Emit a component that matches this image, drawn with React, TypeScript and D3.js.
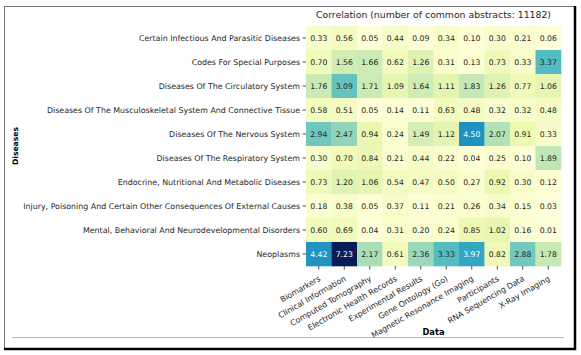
import React from "react";
import * as d3 from "d3";

const diseases = [
  "Certain Infectious And Parasitic Diseases",
  "Codes For Special Purposes",
  "Diseases Of The Circulatory System",
  "Diseases Of The Musculoskeletal System And Connective Tissue",
  "Diseases Of The Nervous System",
  "Diseases Of The Respiratory System",
  "Endocrine, Nutritional And Metabolic Diseases",
  "Injury, Poisoning And Certain Other Consequences Of External Causes",
  "Mental, Behavioral And Neurodevelopmental Disorders",
  "Neoplasms",
];

const dataTypes = [
  "Biomarkers",
  "Clinical Information",
  "Computed Tomography",
  "Electronic Health Records",
  "Experimental Results",
  "Gene Ontology (Go)",
  "Magnetic Resonance Imaging",
  "Participants",
  "RNA Sequencing Data",
  "X-Ray Imaging",
];

const infectious = [0.33, 0.56, 0.05, 0.44, 0.09, 0.34, 0.10, 0.30, 0.21, 0.06];
const specialCodes = [0.70, 1.56, 1.66, 0.62, 1.26, 0.31, 0.13, 0.73, 0.33, 3.37];
const circulatory = [1.76, 3.09, 1.71, 1.09, 1.64, 1.11, 1.83, 1.26, 0.77, 1.06];
const musculoskeletal = [0.58, 0.51, 0.05, 0.14, 0.11, 0.63, 0.48, 0.32, 0.32, 0.48];
const nervous = [2.94, 2.47, 0.94, 0.24, 1.49, 1.12, 4.50, 2.07, 0.91, 0.33];
const respiratory = [0.30, 0.70, 0.84, 0.21, 0.44, 0.22, 0.04, 0.25, 0.10, 1.89];
const endocrine = [0.73, 1.20, 1.06, 0.54, 0.47, 0.50, 0.27, 0.92, 0.30, 0.12];
const injury = [0.18, 0.38, 0.05, 0.37, 0.11, 0.21, 0.26, 0.34, 0.15, 0.03];
const mental = [0.60, 0.69, 0.04, 0.31, 0.20, 0.24, 0.85, 1.02, 0.16, 0.01];
const neoplasms = [4.42, 7.23, 2.17, 0.61, 2.36, 3.33, 3.97, 0.82, 2.88, 1.78];

const matrix = [
  infectious,
  specialCodes,
  circulatory,
  musculoskeletal,
  nervous,
  respiratory,
  endocrine,
  injury,
  mental,
  neoplasms,
];

const titleText = "Correlation (number of common abstracts: 11182)";

const YLGNBU = [
  "#ffffd9", "#edf8b1", "#c7e9b4", "#7fcdbb", "#41b6c4",
  "#1d91c0", "#225ea8", "#253494", "#081d58",
];

const FONT = "DejaVu Sans, sans-serif";

function luminance(c: string) {
  const rgb = d3.rgb(c);
  const f = (v: number) => {
    const s = v / 255;
    return s <= 0.03928 ? s / 12.92 : Math.pow((s + 0.055) / 1.055, 2.4);
  };
  return 0.2126 * f(rgb.r) + 0.7152 * f(rgb.g) + 0.0722 * f(rgb.b);
}

export default function App() {
  const W = 581;
  const H = 355;
  const left = 306;
  const right = 561;
  const top = 26;
  const bottom = 266;

  const x = d3.scaleBand<string>().domain(dataTypes).range([left, right]);
  const y = d3.scaleBand<string>().domain(diseases).range([top, bottom]);
  const vmax = d3.max(matrix.flat()) as number;
  const color = d3
    .scaleLinear<string>()
    .domain(YLGNBU.map((_, i) => (i / (YLGNBU.length - 1)) * vmax))
    .range(YLGNBU)
    .interpolate(d3.interpolateRgb)
    .clamp(true);

  const bw = x.bandwidth();
  const bh = y.bandwidth();

  return (
    <svg
      width={W}
      height={H}
      style={{ position: "absolute", left: 0, top: 0, background: "#fff" }}
      fontFamily={FONT}
    >
      <rect x={0} y={0} width={W} height={H} fill="#fff" />
      {/* frame */}
      <line x1={4} y1={6.5} x2={575} y2={6.5} stroke="#777" strokeWidth={1} />
      <line x1={4.5} y1={6} x2={4.5} y2={349} stroke="#777" strokeWidth={1} />
      <line x1={575} y1={6} x2={575} y2={350} stroke="#000" strokeWidth={2.5} />
      <line x1={4} y1={349} x2={576} y2={349} stroke="#000" strokeWidth={2.5} />
      <line x1={12} y1={337.5} x2={564} y2={337.5} stroke="#b5b5b5" strokeWidth={1} />

      {/* cells */}
      {matrix.map((row, ri) =>
        row.map((v, ci) => {
          const fill = color(v);
          const txt = luminance(fill) > 0.39 ? "#262626" : "#ffffff";
          const cx = (x(dataTypes[ci]) as number) + bw / 2;
          const cy = (y(diseases[ri]) as number) + bh / 2;
          return (
            <g key={`${ri}-${ci}`}>
              <rect
                x={x(dataTypes[ci])}
                y={y(diseases[ri])}
                width={bw + 0.3}
                height={bh + 0.3}
                fill={fill}
              />
              <text
                x={cx}
                y={cy}
                textAnchor="middle"
                dominantBaseline="central"
                fontSize={7.7}
                fill={txt}
              >
                {v.toFixed(2)}
              </text>
            </g>
          );
        })
      )}

      {/* y axis */}
      {diseases.map((d) => {
        const cy = (y(d) as number) + bh / 2;
        return (
          <g key={d}>
            <line x1={left - 3.5} x2={left} y1={cy} y2={cy} stroke="#262626" strokeWidth={0.8} />
            <text
              x={left - 6}
              y={cy}
              textAnchor="end"
              dominantBaseline="central"
              fontSize={7.9}
              fill="#262626"
            >
              {d}
            </text>
          </g>
        );
      })}

      {/* x axis */}
      {dataTypes.map((d) => {
        const cx = (x(d) as number) + bw / 2;
        return (
          <g key={d}>
            <line x1={cx} x2={cx} y1={bottom} y2={bottom + 3.5} stroke="#262626" strokeWidth={0.8} />
            <text
              transform={`translate(${cx + 1},${bottom + 12}) rotate(-30)`}
              textAnchor="end"
              dominantBaseline="central"
              fontSize={7.9}
              fill="#262626"
            >
              {d}
            </text>
          </g>
        );
      })}

      {/* title */}
      <text
        x={(left + right) / 2}
        y={18}
        textAnchor="middle"
        fontSize={9.3}
        fill="#262626"
      >
        {titleText}
      </text>

      {/* axis labels */}
      <text
        transform={`translate(18,${(top + bottom) / 2}) rotate(-90)`}
        textAnchor="middle"
        fontSize={7.6}
        fontWeight="bold"
        fill="#000"
      >
        Diseases
      </text>
      <text
        x={(left + right) / 2}
        y={335}
        textAnchor="middle"
        fontSize={8.3}
        fontWeight="bold"
        fill="#000"
      >
        Data
      </text>
    </svg>
  );
}
